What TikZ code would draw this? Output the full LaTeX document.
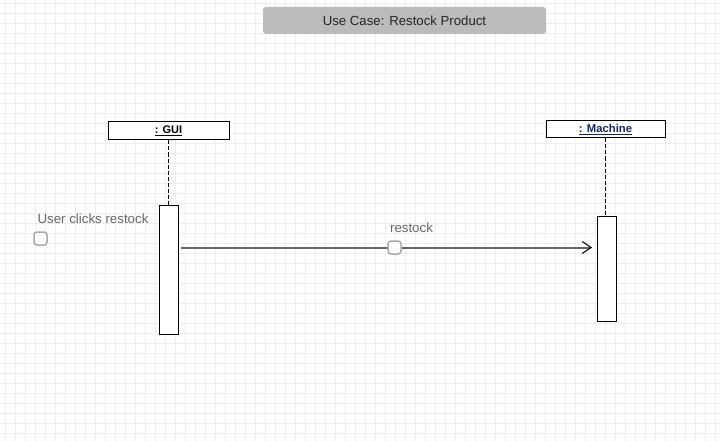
\documentclass[tikz,border=0pt]{standalone}
\usepackage{fontspec}
\setmainfont{Liberation Sans}
\usetikzlibrary{arrows.meta}
\definecolor{gridc}{HTML}{EEEBF8}
\definecolor{titlec}{HTML}{BBBBBB}
\definecolor{msgc}{HTML}{666666}
\definecolor{labelc}{HTML}{666666}
\definecolor{handlec}{HTML}{AAAAAA}
\tikzset{
  objbox/.style={draw, fill=white, line width=1pt, inner sep=0pt},
  actbar/.style={draw, fill=white, line width=1pt},
  handle/.style={draw=handlec, fill=white, line width=1.5pt, rounded corners=3pt, minimum size=13pt, inner sep=0pt},
  lbl/.style={text=labelc, font=\fontsize{13.3}{15}\selectfont, inner sep=0pt}
}
\begin{document}
\begin{tikzpicture}[x=1pt,y=-1pt]
          \useasboundingbox (0,0) rectangle (720,441);
          \fill[white] (0,0) rectangle (720,441);
          \foreach \x in {5,15,...,715}
            \draw[gridc, line width=0.8pt] (\x,0) -- (\x,441);
          \foreach \y in {3,13,...,441}
            \draw[gridc, line width=0.8pt] (0,\y) -- (720,\y);

          % title
          \node[fill=titlec, rounded corners=3pt, minimum width=283pt, minimum height=27pt, font=\fontsize{13.2}{15}\selectfont, text=black!85] (title) at (404.5,20.5) {Use Case: Restock Product};

          % lifelines
          \node[objbox, minimum width=121pt, minimum height=18pt, font=\bfseries\fontsize{11}{13}\selectfont] (gui) at (168.5,131) {\underline{: GUI}};
          \node[objbox, minimum width=119pt, minimum height=17pt, font=\bfseries\fontsize{11.3}{13}\selectfont, text={rgb,255:red,20;green,40;blue,90}] (machine) at (605.5,129.5) {\underline{: Machine}};

          \node[actbar, minimum width=19pt, minimum height=129pt, inner sep=0pt] (guiact) at (168.5,269.5) {};
          \node[actbar, minimum width=19pt, minimum height=105pt, inner sep=0pt] (machact) at (606.5,268.5) {};

          \draw[dashed, line width=1pt, dash pattern=on 4pt off 2pt] (gui.south) -- (guiact.north);
          \draw[dashed, line width=1pt, dash pattern=on 4pt off 2pt] (machine.south) -- (machact.north -| machine.south);

          % message
          \coordinate (msgstart) at (181,247.5);
          \coordinate (msgend) at (592,247.5);
          \draw[msgc, line width=2pt, -{Straight Barb[length=9pt, width=12pt, line width=1pt, black]}] (msgstart) -- (msgend);
          \node[handle] (msghandle) at (394.5,247.5) {};
          \node[lbl] (msglabel) at (411.5,228) {restock};

          % trigger
          \node[lbl] (trigger) at (93,218.5) {User clicks restock};
          \node[handle] (triggerhandle) at (40.5,238.5) {};
        \end{tikzpicture}
\end{document}
